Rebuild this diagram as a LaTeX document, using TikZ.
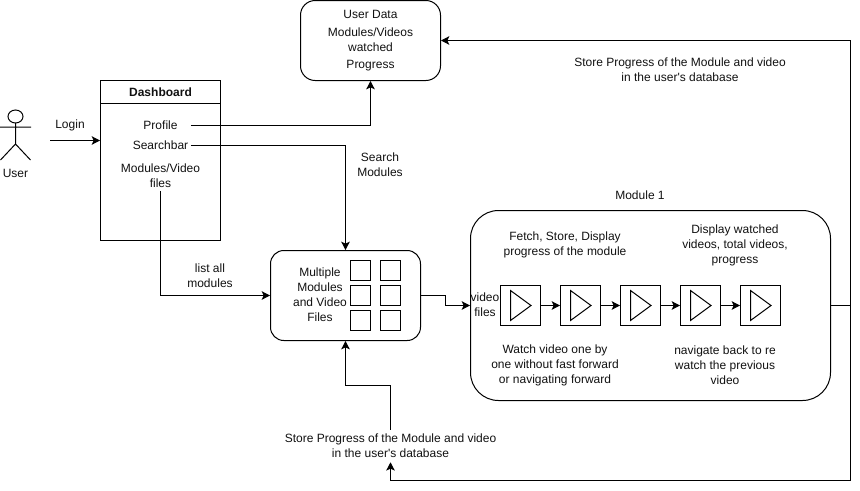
\documentclass[tikz,border=0pt]{standalone}
\usepackage{fontspec}
\setmainfont{Liberation Sans}
\usetikzlibrary{arrows.meta,calc}
\definecolor{ink}{HTML}{111111}
\tikzset{
  every node/.style={font=\fontsize{9}{11.25}\selectfont,text=ink,inner sep=0pt,align=center},
  lin/.style={draw=black,line width=0.75pt},
  arr/.style={lin,-{Stealth[length=6.2pt,width=6.4pt,inset=1.4pt]}},
  sqbox/.style={rectangle,lin,minimum width=15pt,minimum height=15pt},
  playbox/.style={rectangle,lin,minimum width=30pt,minimum height=30pt,
    path picture={\draw[line width=0.75pt] (path picture bounding box.center) ++(-10,-15) -- ++(0,30) -- ++(20.5,-15) -- cycle;}},
  round/.style={rectangle,lin,rounded corners=#1},
  item/.style={minimum width=45pt}
}
\begin{document}
\begin{tikzpicture}[x=0.75pt,y=-0.75pt]
\useasboundingbox (0,0) rectangle (860,490);
% actor
\draw[lin] (15.5,116.5) ellipse[x radius=7.5,y radius=6.5];
\draw[lin] (15.5,123) -- (15.5,144) -- (0.5,160) (15.5,144) -- (30.5,160) (0,127) -- (31,127);
\node (user) at (15.5,173) {User};
\coordinate (loginstart) at (50,140.5);
\node (login) at (70,125) {Login};
% dashboard
\node[rectangle,lin,minimum width=90pt,minimum height=120pt] (dash) at (160.5,160.5) {};
\node[rectangle,lin,minimum width=90pt,minimum height=17.25pt,font=\fontsize{9}{11.25}\selectfont\bfseries] (dashtitle) at (160.5,92) {Dashboard};
\node[item] (profile) at (160.5,125) {Profile};
\node[item] (search) at (160.5,145) {Searchbar};
\node[minimum height=22.5pt] (mvf) at (160.5,175.5) {Modules/Video\\files};
% user data
\node[round=11pt,minimum width=105pt,minimum height=60pt] (userdata) at (370.5,40.5)
  {User Data\\[2.4pt]Modules/Videos\\watched\\[1pt]Progress};
% multiple
\node[round=10pt,minimum width=112.5pt,minimum height=67.5pt] (multi) at (345.5,295.5) {};
\node (multitext) at (320,295) {Multiple\\Modules\\and Video\\Files};
\foreach \n/\x/\y in {a/360.5/270.5,b/390.5/270.5,c/360.5/295.5,d/390.5/295.5,e/360.5/320.5,f/390.5/320.5}
  \node[sqbox] (sq\n) at (\x,\y) {};
% module
\node[round=21pt,minimum width=270pt,minimum height=142.5pt] (module) at (650.5,305.5) {};
\node (moduletitle) at (640,195) {Module 1};
\node (fetch) at (565,245) {Fetch, Store, Display\\progress of the module};
\node (display) at (735,245) {Display watched\\videos, total videos,\\progress};
\node (videofiles) at (485,305) {video\\files};
\node (watch) at (555,365) {Watch video one by\\one without fast forward\\or navigating forward};
\node (navigate) at (725,365) {navigate back to re\\watch the previous\\video};
\foreach \i/\x in {1/520.5,2/580.5,3/640.5,4/700.5,5/760.5}
  \node[playbox] (p\i) at (\x,305.5) {};
\foreach \a/\b in {1/2,2/3,3/4,4/5}
  \draw[arr] (p\a) -- (p\b);
% labels
\node (searchlabel) at (380,165) {Search\\Modules};
\node (listlabel) at (210,276) {list all\\modules};
\node (storetop) at (680,70) {Store Progress of the Module and video\\in the user\textquotesingle s database};
\node[minimum height=24pt] (storebottom) at (390.5,446) {Store Progress of the Module and video\\in the user\textquotesingle s database};
% connectors
\draw[arr] (loginstart) -- (loginstart -| dash.west);
\draw[arr] (profile.east) -| (userdata.south);
\draw[arr] (search.east) -| (multi.north);
\draw[arr] (mvf.south) |- (multi.west);
\coordinate (mid) at (445.5,300);
\draw[arr] (multi.east) -| (mid) |- (module.west);
\coordinate (rtop) at (850.5,40.5);
\coordinate (rmid) at (850.5,305.5);
\coordinate (rbot) at (850.5,480.5);
\draw[lin] (module.east) -- (rmid);
\draw[arr] (rmid) -- (rtop) -- (userdata.east);
\draw[arr] (rmid) -- (rbot) -| (storebottom.south);
\coordinate (turn) at (345.5,385.5);
\draw[arr] (storebottom.north) |- (turn) -- (multi.south);
\end{tikzpicture}
\end{document}
